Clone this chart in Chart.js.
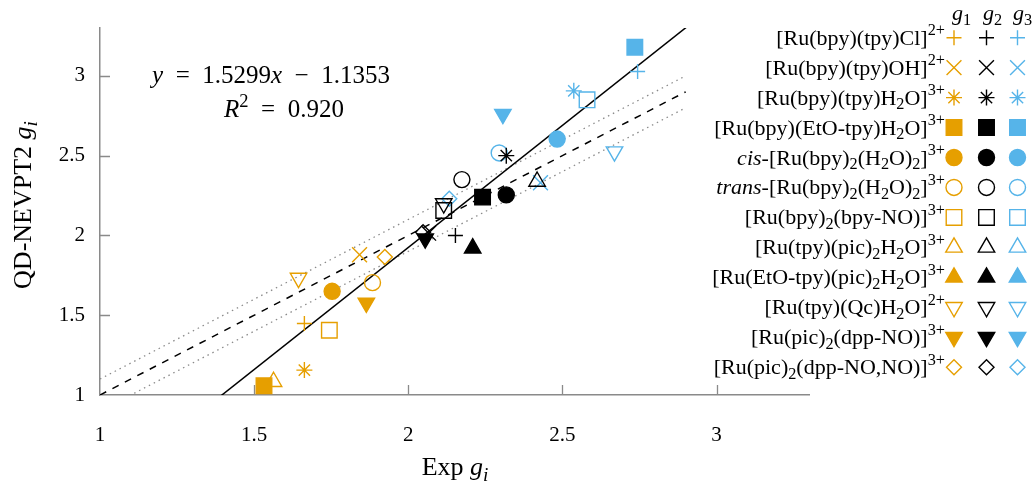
<!DOCTYPE html>
<html>
<head>
<meta charset="utf-8">
<script src="https://cdn.jsdelivr.net/npm/chart.js@4.4.0/dist/chart.umd.min.js"></script>
<style>
  html, body { margin: 0; padding: 0; background: #fff; }
  #wrap { width: 1033px; height: 483px; }
</style>
</head>
<body>
<div id="wrap"><canvas id="chart" width="1033" height="483"></canvas></div>
<script>
// ---- values ----
const compounds = [
  '[Ru(bpy)(tpy)Cl]^{2+}',
  '[Ru(bpy)(tpy)OH]^{2+}',
  '[Ru(bpy)(tpy)H_{2}O]^{3+}',
  '[Ru(bpy)(EtO-tpy)H_{2}O]^{3+}',
  '*{cis}-[Ru(bpy)_{2}(H_{2}O)_{2}]^{3+}',
  '*{trans}-[Ru(bpy)_{2}(H_{2}O)_{2}]^{3+}',
  '[Ru(bpy)_{2}(bpy-NO)]^{3+}',
  '[Ru(tpy)(pic)_{2}H_{2}O]^{3+}',
  '[Ru(EtO-tpy)(pic)_{2}H_{2}O]^{3+}',
  '[Ru(tpy)(Qc)H_{2}O]^{2+}',
  '[Ru(pic)_{2}(dpp-NO)]^{3+}',
  '[Ru(pic)_{2}(dpp-NO,NO)]^{3+}'
];
const markerStyle  = ['cross', 'crossRot', 'star', 'rect', 'circle', 'circle', 'rect', 'triangle', 'triangle', 'triangle', 'triangle', 'rectRot'];
const markerFilled = [false, false, false, true, true, false, false, false, true, false, true, false];
const markerDown   = [false, false, false, false, false, false, false, false, false, true, true, false];

const groupNames = ['*{g}_{1}', '*{g}_{2}', '*{g}_{3}'];
const expG1  = [1.663, 1.842, 1.663, 1.532, 1.753, 1.884, 1.744, 1.563, null, 1.644, 1.864, 1.924];
const calcG1 = [1.448, 1.879, 1.156, 1.058, 1.650, 1.704, 1.406, 1.083, null, 1.733, 1.577, 1.865];
const expG2  = [2.153, 2.066, 2.318, 2.241, 2.318, 2.174, 2.115, 2.418, 2.209, 2.115, 2.055, 2.048];
const calcG2 = [2.000, 2.014, 2.500, 2.240, 2.254, 2.350, 2.156, 2.338, 1.920, 2.200, 1.980, 2.020];
const expG3  = [2.744, 2.429, 2.537, 2.735, 2.483, 2.295, 2.580, null, null, 2.669, 2.307, 2.133];
const calcG3 = [3.027, 2.330, 2.906, 3.180, 2.604, 2.517, 2.850, null, null, 2.525, 2.760, 2.230];

const fitSlope = 1.5299;
const fitIntercept = -1.1353;
const fitR2 = 0.920;
const parityRange = [1, 2.9];
const parityBand = 0.1;
const axisRange = [1, 3.3];
const xTicks = [1, 1.5, 2, 2.5, 3];
const yTicks = [1, 1.5, 2, 2.5, 3];

// ---- styling ----
const groupColors = ['#E69F00', '#000000', '#56B4E9'];
const styleRadius = { cross: 7.5, crossRot: 10.5, star: 8, rect: 11, circle: 8, triangle: 9.5, rectRot: 7.5 };
const SERIF = '"Liberation Serif", "DejaVu Serif", serif';
const AXIS_GREY = '#8a8a8a';
const SP = '\u2002'; // wider gap, like TeX math spacing

// tiny rich-text helper: _{sub} ^{sup} *{italic} _*{italic sub}
function parseRich(str) {
  const re = /([_^]?)(\*?)\{([^}]*)\}|[^_^*{}]+/g;
  const out = [];
  let m;
  while ((m = re.exec(str))) {
    if (m[3] !== undefined) out.push({ t: m[3], pos: m[1], it: m[2] === '*' });
    else out.push({ t: m[0], pos: '', it: false });
  }
  return out;
}

function drawRich(ctx, str, x, y, size, align) {
  const segs = parseRich(str);
  const fontOf = s => (s.it ? 'italic ' : '') + (s.pos ? size * 0.74 : size) + 'px ' + SERIF;
  let w = 0;
  segs.forEach(s => { ctx.font = fontOf(s); s.w = ctx.measureText(s.t).width; w += s.w; });
  let cx = align === 'right' ? x - w : align === 'center' ? x - w / 2 : x;
  ctx.textBaseline = 'alphabetic';
  ctx.textAlign = 'left';
  segs.forEach(s => {
    ctx.font = fontOf(s);
    const dy = s.pos === '_' ? size * 0.22 : s.pos === '^' ? -size * 0.42 : 0;
    ctx.fillText(s.t, cx, y + dy);
    cx += s.w;
  });
}

function groupDataset(i, xs, ys) {
  const c = groupColors[i];
  return {
    label: 'g' + (i + 1),
    data: xs.map((x, k) => ({ x: x, y: ys[k] })),
    showLine: false,
    pointStyle: markerStyle,
    pointRadius: markerStyle.map(s => styleRadius[s]),
    pointHoverRadius: markerStyle.map(s => styleRadius[s]),
    pointRotation: markerDown.map(d => (d ? 180 : 0)),
    pointBackgroundColor: markerFilled.map(f => (f ? c : 'rgba(0,0,0,0)')),
    pointBorderColor: c,
    pointBorderWidth: 1.4
  };
}

function lineDataset(points, color, width, dash) {
  return {
    type: 'line',
    data: points,
    borderColor: color,
    borderWidth: width,
    borderDash: dash,
    pointRadius: 0,
    fill: false,
    tension: 0
  };
}

// inward tick marks on both axes
const innerTicks = {
  id: 'innerTicks',
  beforeDatasetsDraw(chart) {
    const { ctx, chartArea, scales } = chart;
    ctx.save();
    ctx.strokeStyle = AXIS_GREY;
    ctx.lineWidth = 1.3;
    ctx.beginPath();
    xTicks.slice(1).forEach(v => {
      const px = Math.round(scales.x.getPixelForValue(v)) + 0.5;
      ctx.moveTo(px, chartArea.bottom);
      ctx.lineTo(px, chartArea.bottom - 10);
    });
    yTicks.slice(1).forEach(v => {
      const py = Math.round(scales.y.getPixelForValue(v)) + 0.5;
      ctx.moveTo(chartArea.left, py);
      ctx.lineTo(chartArea.left + 10, py);
    });
    ctx.stroke();
    ctx.restore();
  }
};

// equation, axis titles and the side legend
const annotations = {
  id: 'annotations',
  afterDraw(chart) {
    const ctx = chart.ctx;
    ctx.save();
    ctx.fillStyle = '#000';
    drawRich(ctx, '*{y}' + SP + '=' + SP + fitSlope.toFixed(4) + '*{x}' + SP + '\u2212' + SP + Math.abs(fitIntercept).toFixed(4), 271, 83, 25, 'center');
    drawRich(ctx, '*{R}^{2}' + SP + '=' + SP + fitR2.toFixed(3), 284, 117, 25, 'center');

    drawRich(ctx, 'Exp *{g}_*{i}', 455, 475, 26, 'center');
    ctx.save();
    ctx.translate(31, 205);
    ctx.rotate(-Math.PI / 2);
    drawRich(ctx, 'QD-NEVPT2 *{g}_*{i}', 0, 0, 26, 'center');
    ctx.restore();

    // legend
    const colX = [954, 986.5, 1017.5];
    const headX = [952, 983, 1013];
    groupNames.forEach((g, i) => drawRich(ctx, g, headX[i], 20, 22, 'left'));
    compounds.forEach((name, r) => {
      const y = 37.7 + r * 29.95;
      ctx.fillStyle = '#000';
      drawRich(ctx, name, 945, y + 7, 22, 'right');
      groupColors.forEach((c, i) => {
        ctx.fillStyle = markerFilled[r] ? c : 'rgba(0,0,0,0)';
        ctx.strokeStyle = c;
        ctx.lineWidth = 1.4;
        Chart.helpers.drawPoint(ctx, {
          pointStyle: markerStyle[r],
          radius: styleRadius[markerStyle[r]],
          rotation: markerDown[r] ? 180 : 0,
          borderWidth: 1.4
        }, colX[i], y);
      });
    });
    ctx.restore();
  }
};

const tickFmt = v => String(+v.toFixed(1));

new Chart(document.getElementById('chart'), {
  type: 'scatter',
  data: {
    datasets: [
      groupDataset(0, expG1, calcG1),
      groupDataset(1, expG2, calcG2),
      groupDataset(2, expG3, calcG3),
      lineDataset(axisRange.map(x => ({ x: x, y: fitSlope * x + fitIntercept })), '#000', 1.5, []),
      lineDataset(parityRange.map(x => ({ x: x, y: x })), '#000', 1.5, [7, 7]),
      lineDataset(parityRange.map(x => ({ x: x, y: x + parityBand })), '#8a8a8a', 1.3, [1.5, 4]),
      lineDataset(parityRange.map(x => ({ x: x, y: x - parityBand })), '#8a8a8a', 1.3, [1.5, 4])
    ]
  },
  options: {
    responsive: false,
    animation: false,
    devicePixelRatio: 1,
    layout: { padding: { top: 28, right: 224, left: 0, bottom: 0 } },
    plugins: { legend: { display: false }, tooltip: { enabled: false } },
    scales: {
      x: {
        type: 'linear',
        min: axisRange[0],
        max: axisRange[1],
        afterBuildTicks: s => { s.ticks = xTicks.map(v => ({ value: v })); },
        afterFit: s => { s.height = 88; },
        grid: { display: false },
        border: { display: true, color: AXIS_GREY, width: 1.5 },
        ticks: { color: '#000', padding: 20, maxRotation: 0, font: { family: SERIF, size: 21 }, callback: tickFmt }
      },
      y: {
        type: 'linear',
        min: axisRange[0],
        max: axisRange[1],
        afterBuildTicks: s => { s.ticks = yTicks.map(v => ({ value: v })); },
        afterFit: s => { s.width = 100; },
        grid: { display: false },
        border: { display: true, color: AXIS_GREY, width: 1.5 },
        ticks: { color: '#000', padding: 7, font: { family: SERIF, size: 21 }, callback: tickFmt }
      }
    }
  },
  plugins: [innerTicks, annotations]
});
</script>
</body>
</html>
